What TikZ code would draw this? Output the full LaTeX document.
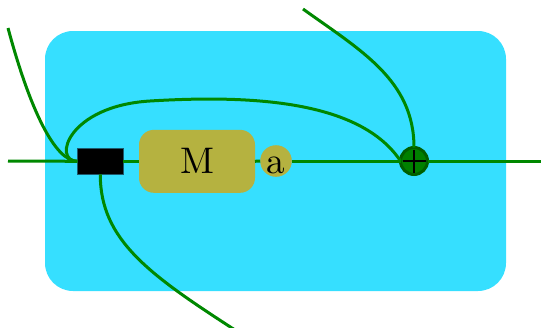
\documentclass[tikz,border=0pt]{standalone}
\usepackage{fontspec}
\newfontfamily\lmten{lmroman10-regular.otf}
\definecolor{wiregreen}{RGB}{0,136,0}
\definecolor{bgcyan}{RGB}{54,223,255}
\definecolor{olivebox}{RGB}{181,178,64}
\definecolor{blkborder}{RGB}{30,90,110}
\definecolor{plusfill}{RGB}{0,128,0}
\definecolor{plusborder}{RGB}{0,95,0}
\begin{document}
\begin{tikzpicture}[x=1pt,y=-1pt,
  wire/.style={draw=wiregreen, line width=3pt},
  mbox/.style={fill=olivebox, rounded corners=15pt, minimum width=116pt, minimum height=63pt, inner sep=0pt, outer sep=0pt, font=\lmten\fontsize{37}{42}\selectfont},
  acirc/.style={circle, fill=olivebox, minimum size=31pt, inner sep=0pt, outer sep=0pt, font=\lmten\fontsize{37}{42}\selectfont},
  blk/.style={fill=black, draw=blkborder, line width=0.8pt, minimum width=46pt, minimum height=26pt, inner sep=0pt, outer sep=0pt},
  plusnode/.style={circle, fill=plusfill, draw=plusborder, line width=3pt, minimum size=27pt, inner sep=0pt, outer sep=0pt}
]
\useasboundingbox (0,0) rectangle (541,327);
\fill[bgcyan, rounded corners=28pt] (45,31) rectangle (506,291);

\node[blk] (box) at (100.3,161.3) {};
\node[mbox] (M) at (197,161.3) {M};
\node[acirc] (a) at (276,161) {\vphantom{M}a};
\node[plusnode] (plus) at (414,161) {};
\draw[line width=1.6pt] (plus.center) ++(0,-11.5) -- ++(0,23) (plus.center) ++(-11.5,0) -- ++(23,0);

\coordinate (inL) at (8,161);
\coordinate (inTL) at (8,28);
\coordinate (inTR) at (303,9);
\coordinate (outB) at (235,330);
\coordinate (outR) at (545,161);
\coordinate (loopTop) at (150,101);

\begin{scope}[wire]
\draw (inL) -- (box.west);
\draw (box.east) -- (M.west);
\draw (M.east) -- (a.west);
\draw (a.east) -- (plus.west);
\draw (plus.east) -- (outR);
\draw (inTL) .. controls (30,110) and (55,161) .. (box.west);
\draw (box.west) .. controls (52,161) and (68,106) .. (loopTop)
      .. controls (250,94.9) and (360,100) .. (plus.west);
\draw (box.south) .. controls (100,240) and (150,275) .. (outB);
\draw (inTR) .. controls (360,50) and (414,80) .. (plus.north);
\end{scope}
\end{tikzpicture}
\end{document}
